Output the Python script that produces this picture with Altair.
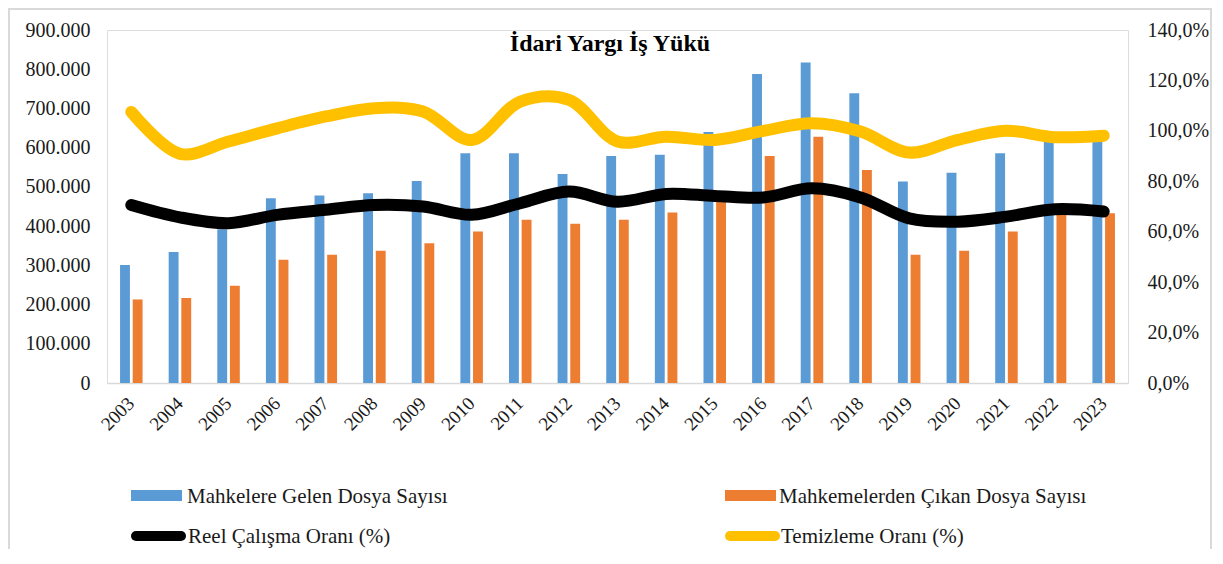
import altair as alt
import pandas as pd

# ---------------- data ----------------
years = ["2003", "2004", "2005", "2006", "2007", "2008", "2009", "2010", "2011", "2012",
         "2013", "2014", "2015", "2016", "2017", "2018", "2019", "2020", "2021", "2022", "2023"]
gelen = [301000, 334000, 392000, 471000, 478000, 484000, 515000, 586000, 586000, 533000,
         579000, 582000, 640000, 788000, 817000, 739000, 514000, 536000, 586000, 632000, 635000]
cikan = [213000, 217000, 248000, 314000, 327000, 337000, 356000, 386000, 416000, 406000,
         416000, 435000, 472000, 579000, 628000, 543000, 327000, 337000, 386000, 437000, 433000]
reel = [70.6, 65.7, 63.4, 66.7, 68.7, 70.6, 70.0, 66.7, 71.3, 75.9,
        71.9, 75.0, 74.2, 73.6, 77.2, 73.6, 65.3, 64.0, 66.0, 68.9, 68.0]
temiz = [107.5, 90.9, 95.8, 101.0, 105.7, 109.0, 107.7, 96.4, 111.6, 112.3,
         95.8, 97.7, 96.4, 100.0, 103.0, 99.7, 91.4, 96.4, 100.0, 97.5, 98.1]

series_names = ["Mahkelere Gelen Dosya Sayısı", "Mahkemelerden Çıkan Dosya Sayısı",
                "Reel Çalışma Oranı (%)", "Temizleme Oranı (%)"]
series_colors = ["#5B9BD5", "#ED7D31", "#000000", "#FFC000"]
title_text = "İdari Yargı İş Yükü"
left_ticks = [0, 100000, 200000, 300000, 400000, 500000, 600000, 700000, 800000, 900000]
right_ticks = [0, 20, 40, 60, 80, 100, 120, 140]

# ---------------- tables ----------------
bars_df = pd.DataFrame({
    "year": years * 2,
    "series": [series_names[0]] * len(years) + [series_names[1]] * len(years),
    "value": gelen + cikan,
})
lines_df = pd.DataFrame({
    "year": years * 2,
    "series": [series_names[2]] * len(years) + [series_names[3]] * len(years),
    "value": reel + temiz,
})

W, H = 1021, 353
FONT = "Liberation Serif"
TXT = "#1a1a1a"

color_scale = alt.Scale(domain=series_names, range=series_colors)
x_scale = alt.Scale(domain=years, paddingInner=0.537, paddingOuter=0.2685)
x_axis = alt.Axis(title=None, labelAngle=-45, labelAlign="right", labelBaseline="middle",
                  labelFont=FONT, labelFontSize=19, labelColor=TXT, labelPadding=17,
                  domainColor="#d9d9d9", domainWidth=1.5, ticks=False, grid=False)

bars = alt.Chart(bars_df).mark_bar().encode(
    x=alt.X("year:N", scale=x_scale, axis=x_axis, sort=years),
    xOffset=alt.XOffset("series:N", scale=alt.Scale(domain=series_names[:2], paddingInner=0.22, paddingOuter=0)),
    y=alt.Y("value:Q", scale=alt.Scale(domain=[0, 900000], nice=False),
            axis=alt.Axis(title=None, orient="left", values=left_ticks, grid=False, ticks=False,
                          domain=False, labelFont=FONT, labelFontSize=20, labelColor=TXT,
                          labelPadding=17,
                          labelExpr="replace(format(datum.value, ',.0f'), ',', '.')")),
    color=alt.Color("series:N", scale=color_scale, legend=None),
)

lines = alt.Chart(lines_df).mark_line(strokeWidth=12, strokeCap="round", strokeJoin="round",
                                      interpolate="catmull-rom").encode(
    x=alt.X("year:N", scale=x_scale, axis=x_axis, sort=years),
    y=alt.Y("value:Q", scale=alt.Scale(domain=[0, 140], nice=False),
            axis=alt.Axis(title=None, orient="right", values=right_ticks, grid=False, ticks=False,
                          domain=False, labelFont=FONT, labelFontSize=20, labelColor=TXT,
                          labelPadding=19,
                          labelExpr="replace(format(datum.value, '.1f'), '.', ',') + '%'")),
    color=alt.Color("series:N", scale=color_scale, legend=None),
    detail="series:N",
)

main = alt.layer(bars, lines).resolve_scale(y="independent")

# ---------------- title ----------------
title = alt.Chart(pd.DataFrame({"t": [title_text]})).mark_text(
    font=FONT, fontSize=24, fontWeight="bold", color="#000", baseline="middle", align="center"
).encode(x=alt.value(503), y=alt.value(14), text="t:N")

# ---------------- legend (manual) ----------------
leg_layers = []
leg_pos = [(24, 466, 80), (618, 466, 672), (24, 506, 81), (618, 506, 674)]
for i, (sx, sy, tx) in enumerate(leg_pos):
    d = pd.DataFrame({"label": [series_names[i]]})
    if i < 2:
        sw = alt.Chart(d).mark_rect(color=series_colors[i]).encode(
            x=alt.value(sx), x2=alt.value(sx + 51), y=alt.value(sy - 6), y2=alt.value(sy + 5))
    else:
        sw = alt.Chart(d).mark_rule(color=series_colors[i], strokeWidth=10, strokeCap="round").encode(
            x=alt.value(sx + 5), x2=alt.value(sx + 50), y=alt.value(sy))
    tx_layer = alt.Chart(d).mark_text(font=FONT, fontSize=21, color=TXT, align="left",
                                      baseline="middle").encode(
        x=alt.value(tx), y=alt.value(sy + 1), text="label:N")
    leg_layers += [sw, tx_layer]

border = alt.Chart(pd.DataFrame({"b": [0]})).mark_rect(
    fill=None, stroke="#d9d9d9", strokeWidth=2
).encode(x=alt.value(-98), x2=alt.value(1104), y=alt.value(-21), y2=alt.value(560))

chart = alt.layer(main, title, *leg_layers, border).properties(
    width=W, height=H,
    autosize=alt.AutoSizeParams(type="none"),
    padding={"left": 99, "top": 22, "right": 85, "bottom": 166},
).configure_view(stroke=None).configure(background="white")

chart.save("out.html", embed_options={"renderer": "svg", "actions": False})
